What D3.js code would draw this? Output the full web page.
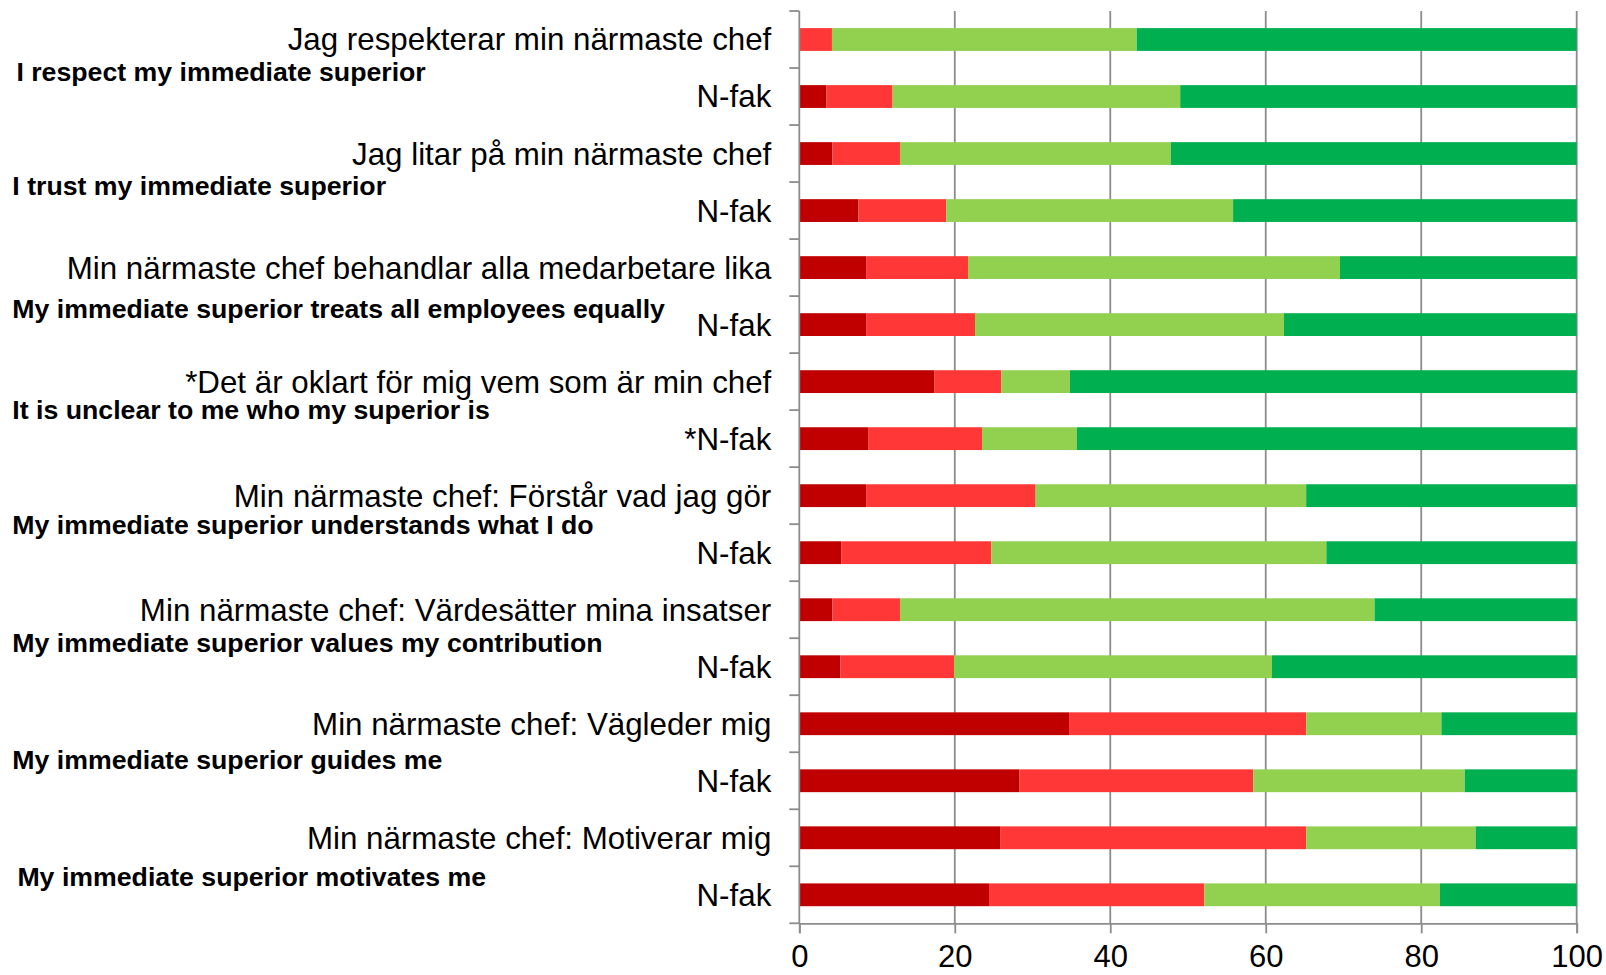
<!DOCTYPE html>
<html lang="en">
	<head>
		<meta charset="utf-8">
		<title>narmaste chef</title>
		<script type="text/javascript" src="https://d3js.org/d3.v7.min.js"></script>
		<style type="text/css">
            body{margin:0;background:#fff;font-family:"Liberation Sans",Arial,sans-serif;}
            #chart1 svg{display:block;}
            .cat{font-size:31.3px;fill:#000;}
            .en{font-size:26.7px;font-weight:bold;fill:#000;}
            .tick text{font-size:31px;fill:#000;font-family:"Liberation Sans",Arial,sans-serif;}
		</style>
	</head>
	<body>
    <div id="chart1"></div>

		<script type="text/javascript">

            // rows, top to bottom
            var categories = [
                "Jag respekterar min närmaste chef", "N-fak",
                "Jag litar på min närmaste chef", "N-fak",
                "Min närmaste chef behandlar alla medarbetare lika", "N-fak",
                "*Det är oklart för mig vem som är min chef", "*N-fak",
                "Min närmaste chef: Förstår vad jag gör", "N-fak",
                "Min närmaste chef: Värdesätter mina insatser", "N-fak",
                "Min närmaste chef: Vägleder mig", "N-fak",
                "Min närmaste chef: Motiverar mig", "N-fak"
            ]
            var englishLabels = [
                "I respect my immediate superior",
                "I trust my immediate superior",
                "My immediate superior treats all employees equally",
                "It is unclear to me who my superior is",
                "My immediate superior understands what I do",
                "My immediate superior values my contribution",
                "My immediate superior guides me",
                "My immediate superior motivates me"
            ]
            // percent per answer group
            var darkRed    = [0, 3.5, 4.25, 7.6, 8.6, 8.6, 17.4, 8.85, 8.6, 5.4, 4.25, 5.3, 34.7, 28.3, 25.9, 24.4]
            var lightRed   = [4.2, 8.5, 8.7, 11.3, 13.1, 14.0, 8.6, 14.65, 21.8, 19.3, 8.7, 14.6, 30.5, 30.1, 39.3, 27.7]
            var lightGreen = [39.2, 37.0, 34.85, 36.9, 47.85, 39.75, 8.8, 12.2, 34.8, 43.1, 61.05, 40.9, 17.4, 27.2, 21.8, 30.3]
            var darkGreen  = [56.6, 51.0, 52.2, 44.2, 30.45, 37.65, 65.2, 64.3, 34.8, 32.2, 26.0, 39.2, 17.4, 14.4, 13.0, 17.6]
            var xTicks = [0, 20, 40, 60, 80, 100]

            var keys = ["darkRed", "lightRed", "lightGreen", "darkGreen"]
            var colors = ["#C00000", "#FF3737", "#92D050", "#00B050"]

            drawChart()

            function drawChart(){
                var w = 1606
                var h = 975
                var left = 799.3, right = 1576.7, top = 11, bottom = 923.3

                var rows = categories.map(function(c, i){
                    return {cat: i, darkRed: darkRed[i], lightRed: lightRed[i],
                            lightGreen: lightGreen[i], darkGreen: darkGreen[i]}
                })
                var stacked = d3.stack().keys(keys)(rows)

                var xScale = d3.scaleLinear().domain([0, 100]).range([left, right])
                var yScale = d3.scaleBand().domain(d3.range(categories.length))
                               .range([top, bottom]).paddingInner(0.6).paddingOuter(0.3)
                var step = yScale.step()

                var svg = d3.select("#chart1")
                            .append("svg")
                            .attr("width", w)
                            .attr("height", h)

                // vertical gridlines
                svg.append("g")
                    .selectAll("line")
                    .data(xTicks.slice(1))
                    .enter()
                    .append("line")
                    .attr("x1", function(d){ return xScale(d) })
                    .attr("x2", function(d){ return xScale(d) })
                    .attr("y1", top)
                    .attr("y2", bottom)
                    .attr("stroke", "#8c8c8c")
                    .attr("stroke-width", 1.8)

                svg.append("g")
                    .selectAll("g")
                    .data(stacked)
                    .enter()
                    .append("g")
                    .attr("fill", function(d, i){ return colors[i] })
                    .selectAll("rect")
                    .data(function(d){ return d })
                    .enter()
                    .append("rect")
                    .attr("x", function(d){ return xScale(d[0]) })
                    .attr("y", function(d, i){ return yScale(i) })
                    .attr("width", function(d){ return xScale(d[1]) - xScale(d[0]) })
                    .attr("height", yScale.bandwidth())

                // left axis line with ticks between rows
                var yAxis = svg.append("g")
                yAxis.append("line")
                    .attr("x1", left).attr("x2", left)
                    .attr("y1", top).attr("y2", bottom)
                    .attr("stroke", "#8c8c8c").attr("stroke-width", 1.8)
                yAxis.selectAll(".ytick")
                    .data(d3.range(categories.length + 1))
                    .enter()
                    .append("line")
                    .attr("class", "ytick")
                    .attr("x1", left - 10).attr("x2", left)
                    .attr("y1", function(i){ return top + i * step })
                    .attr("y2", function(i){ return top + i * step })
                    .attr("stroke", "#8c8c8c").attr("stroke-width", 1.8)

                // bottom axis
                var xAxis = d3.axisBottom(xScale).tickValues(xTicks).tickSize(10).tickPadding(12)
                var gx = svg.append("g")
                    .attr("transform", "translate(0," + bottom + ")")
                    .call(xAxis)
                gx.select(".domain").attr("stroke", "#8c8c8c").attr("stroke-width", 1.8)
                gx.selectAll(".tick line").attr("stroke", "#8c8c8c").attr("stroke-width", 1.8)
                gx.selectAll(".tick text").attr("dy", "0.71em")

                // category labels
                svg.append("g")
                    .selectAll("text")
                    .data(categories)
                    .enter()
                    .append("text")
                    .attr("class", "cat")
                    .attr("x", left - 28)
                    .attr("y", function(d, i){ return yScale(i) + yScale.bandwidth() / 2 })
                    .attr("dy", "0.35em")
                    .attr("text-anchor", "end")
                    .text(function(d){ return d })

                // english translations, hanging between each pair of rows
                var enNudge = [4, 4, 13, 0, 0, 4, 7, 10]
                var enX = [16.4, 12.3, 12.3, 12.3, 12.3, 12.3, 12.3, 17.4]
                svg.append("g")
                    .selectAll("text")
                    .data(englishLabels)
                    .enter()
                    .append("text")
                    .attr("class", "en")
                    .attr("x", function(d, i){ return enX[i] })
                    .attr("y", function(d, i){ return top + (2 * i + 1) * step + enNudge[i] })
                    .attr("dy", "0.35em")
                    .text(function(d){ return d })
            }

        </script>
	</body>
</html>
